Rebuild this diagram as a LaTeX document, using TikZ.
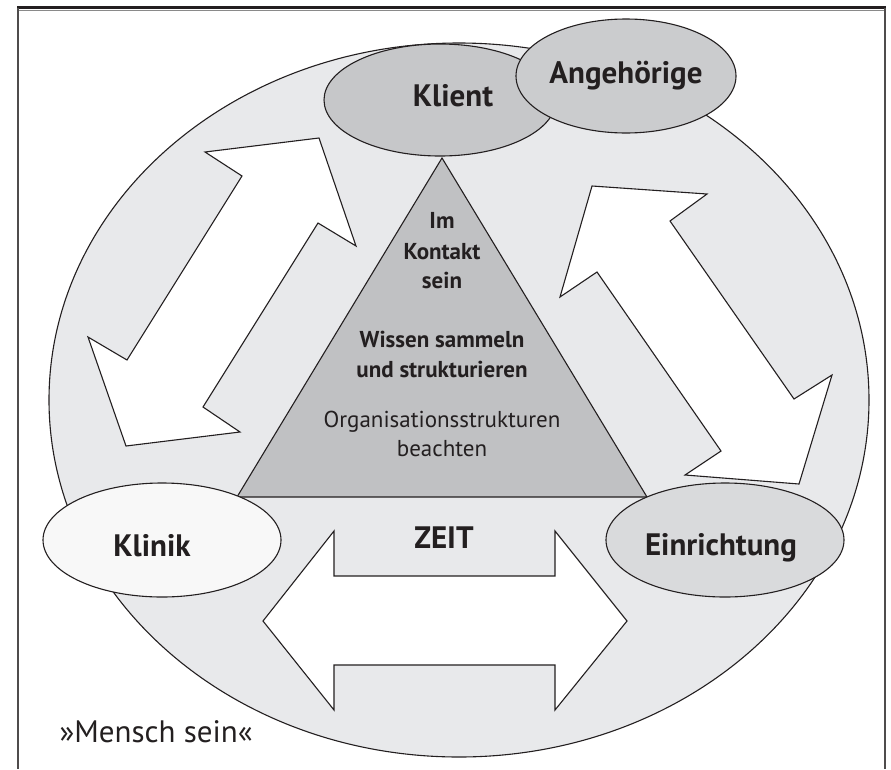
\documentclass[tikz,border=0pt]{standalone}
\usepackage{fontspec}
\setmainfont{PT Sans}
\usepackage{xcolor}
\usepackage{tikz}
\usetikzlibrary{shapes.geometric}
\definecolor{Ink}       {HTML}{231F20}
\definecolor{FrameGrey} {HTML}{8A8A8A}
\definecolor{WorldGrey} {HTML}{E8E9EB}
\definecolor{KlientGrey}{HTML}{C6C7C9}
\definecolor{AngGrey}   {HTML}{CBCCCE}
\definecolor{TriGrey}   {HTML}{C0C1C3}
\definecolor{KlinikWhite}{HTML}{F8F8F8}
\definecolor{EinrGrey}  {HTML}{D9DADC}

\begin{document}
\begin{tikzpicture}[x=1pt, y=-1pt,
    bubble/.style={ellipse, draw=Ink, line width=1.1pt, inner sep=0pt},
    blockarrow/.style={draw=Ink, fill=white, line width=1.1pt},
    lbl/.style={anchor=base, text=Ink, font=\fontsize{31}{34}\selectfont\bfseries},
    tritext/.style={anchor=base, text=Ink, font=\fontsize{23}{28}\selectfont\bfseries},
    trinote/.style={anchor=base, text=Ink, font=\fontsize{23}{28}\selectfont}]

  \useasboundingbox (0,0) rectangle (891,769);

  % ===== FRAME =====
  \draw[line width=2.6pt, Ink] (17,7.7) -- (886,7.7);
  \draw[line width=1.4pt, FrameGrey] (19,10.3) -- (884,10.3);
  \draw[line width=1.7pt, Ink!80] (18,8) -- (18,769);
  \draw[line width=1.7pt, Ink!80] (885,8) -- (885,769);

  % ===== MENSCH SEIN (big ellipse) =====
  \node[bubble, fill=WorldGrey, minimum width=820pt, minimum height=714pt]
        (world) at (459,400) {};
  \node[anchor=base west, text=Ink, font=\fontsize{31}{34}\selectfont]
        (mensch) at (56,742) {»Mensch sein«};

  % ===== DOUBLE ARROWS =====
  % left: Klient <-> Klinik
  \draw[blockarrow] (319,138) -- (356,246) -- (318,223) -- (203,407) -- (240,432)
        -- (126,446) -- (88,337) -- (127,360) -- (242,176) -- (205,152) -- cycle;
  % right: Klient <-> Einrichtung
  \draw[blockarrow] (592,186) -- (707,194) -- (670,221) -- (794,399) -- (832,375)
        -- (799,484) -- (685,475) -- (721,451) -- (597,272) -- (560,297) -- cycle;
  % bottom: Klinik <-> Einrichtung
  \draw[blockarrow] (263,621) -- (334,531) -- (334,576) -- (555,576) -- (555,531)
        -- (627,621) -- (555,710) -- (555,665) -- (334,665) -- (334,710) -- cycle;
  \node[lbl] (zeit) at (444,548) {ZEIT};

  % ===== TRIANGLE =====
  \draw[line width=1.1pt, draw=Ink, fill=TriGrey] (442,158) -- (647,497) -- (237,497) -- cycle;
  \foreach \y/\txt in {228/Im, 259/Kontakt, 288/sein, 347/Wissen sammeln, 377/und strukturieren}{
    \node[tritext] (tri-\y) at (442,\y) {\txt};
  }
  \foreach \y/\txt in {427/Organisationsstrukturen, 456/beachten}{
    \node[trinote] (tri-\y) at (442,\y) {\txt};
  }

  % ===== PERSONS / PLACES =====
  \node[bubble, fill=KlientGrey, minimum width=232pt, minimum height=112pt]
        (klient) at (440,100) {};
  \node[lbl] (klient-txt) at (453,106) {Klient};
  \node[bubble, fill=AngGrey, minimum width=220pt, minimum height=114pt]
        (angeh) at (626,76) {};
  \node[lbl] (angeh-txt) at (626,83) {Angehörige};
  \node[bubble, fill=KlinikWhite, minimum width=238pt, minimum height=114pt]
        (klinik) at (162,540) {};
  \node[lbl] (klinik-txt) at (152,556) {Klinik};
  \node[bubble, fill=EinrGrey, minimum width=238pt, minimum height=114pt]
        (einr) at (725,540) {};
  \node[lbl] (einr-txt) at (721,555) {Einrichtung};

\end{tikzpicture}
\end{document}
